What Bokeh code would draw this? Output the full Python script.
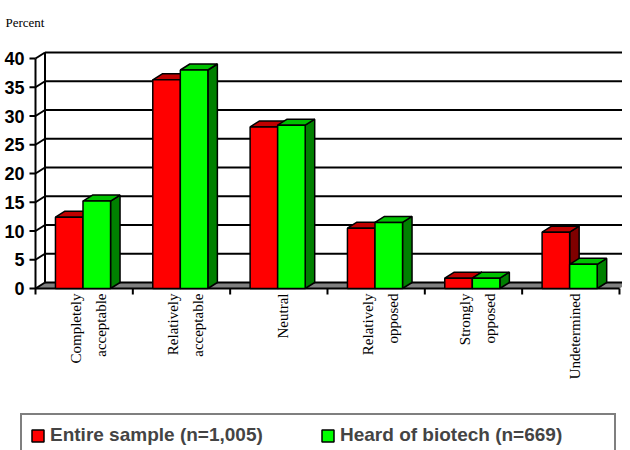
import math
from bokeh.plotting import figure
from bokeh.models import Range1d, Legend, LegendItem
from bokeh.core.properties import value
from bokeh.embed import file_html
from bokeh.resources import INLINE

# ---- data ----
categories = ["Completely acceptable", "Relatively acceptable", "Neutral",
              "Relatively opposed", "Strongly opposed", "Undetermined"]
label_lines = [["Completely", "acceptable"], ["Relatively", "acceptable"], ["Neutral"],
               ["Relatively", "opposed"], ["Strongly", "opposed"], ["Undetermined"]]
entire_sample = [12.4, 36.3, 28.1, 10.5, 1.8, 9.8]
heard_biotech = [15.2, 38.0, 28.4, 11.5, 1.8, 4.2]
y_ticks = [0, 5, 10, 15, 20, 25, 30, 35, 40]
y_tick_labels = [str(t) for t in y_ticks]
series_names = ["Entire sample (n=1,005)", "Heard of biotech (n=669)"]
y_title = "Percent"

# ---- layout constants ----
PX_X = 97.33          # px per category
PX_Y = 5.75           # px per percent
DX = 9.5 / PX_X       # 3-D depth in data x
DY = 6.0 / PX_Y       # 3-D depth in data y
BW = 0.283            # bar width
RED_OFF = 0.205       # left of first bar within a category
N = len(categories)
W, H = 622, 450
LEFT = 35             # px from figure left to the front y axis
ZERO = 288            # px from figure top to y = 0
TOP40 = 58            # px from figure top to y = 40

p = figure(width=W, height=H,
           x_range=Range1d(-LEFT / PX_X, (W - LEFT) / PX_X),
           y_range=Range1d(-(H - ZERO) / PX_Y, 40 + TOP40 / PX_Y),
           x_axis_type=None, y_axis_type=None,
           min_border_left=0, min_border_right=0, min_border_top=0, min_border_bottom=0,
           output_backend="svg", toolbar_location=None)
p.outline_line_color = None
p.background_fill_color = "white"
p.border_fill_color = "white"

tick_len_x = 6 / PX_X
tick_down = 6 / PX_Y
xmax = N

# floor
p.patch([0, DX, xmax + DX, xmax], [0, DY, DY, 0], fill_color="#808080", line_color=None)

# back wall gridlines
p.segment(x0=[DX] * len(y_ticks), y0=[t + DY for t in y_ticks],
          x1=[xmax + DX] * len(y_ticks), y1=[t + DY for t in y_ticks],
          line_color="black", line_width=2)
# left wall: diagonals and back vertical
p.segment(x0=[0] * len(y_ticks), y0=y_ticks, x1=[DX] * len(y_ticks),
          y1=[t + DY for t in y_ticks], line_color="black", line_width=2)
p.segment(x0=[DX], y0=[DY], x1=[DX], y1=[y_ticks[-1] + DY], line_color="black", line_width=2)
# y axis line, ticks and labels
p.segment(x0=[0], y0=[-tick_down], x1=[0], y1=[y_ticks[-1]], line_color="black", line_width=2)
p.segment(x0=[-tick_len_x] * len(y_ticks), y0=y_ticks, x1=[0] * len(y_ticks), y1=y_ticks,
          line_color="black", line_width=2)
p.text(x=[-11 / PX_X] * len(y_ticks), y=y_ticks, text=y_tick_labels,
       text_align="right", text_baseline="middle",
       text_font=value("Liberation Sans"), text_font_style="bold",
       text_font_size="18px", text_color="black")
# base line and category ticks
p.segment(x0=[0], y0=[0], x1=[xmax], y1=[0], line_color="black", line_width=2)
p.segment(x0=list(range(1, N + 1)), y0=[0] * N, x1=list(range(1, N + 1)),
          y1=[-tick_down] * N, line_color="black", line_width=2)


def bars3d(vals, off, front, top, side):
    lefts = [i + off for i in range(N)]
    rights = [l + BW for l in lefts]
    tops_x, tops_y, side_x, side_y = [], [], [], []
    for l, r, v in zip(lefts, rights, vals):
        tops_x.append([l, l + DX, r + DX, r])
        tops_y.append([v, v + DY, v + DY, v])
        side_x.append([r, r + DX, r + DX, r])
        side_y.append([0, DY, v + DY, v])
    p.patches(side_x, side_y, fill_color=side, line_color="black", line_width=1.5)
    p.patches(tops_x, tops_y, fill_color=top, line_color="black", line_width=1.5)
    rr = p.quad(left=lefts, right=rights, bottom=[0] * N, top=vals,
                fill_color=front, line_color="black", line_width=1.5)
    return rr


r_red = bars3d(entire_sample, RED_OFF, "#FF0000", "#C00000", "#800000")
r_green = bars3d(heard_biotech, RED_OFF + BW, "#00FF00", "#00C000", "#008000")

# category labels (rotated)
lx, ly, lt = [], [], []
for i, lines in enumerate(label_lines):
    offs = [-8, 17] if len(lines) == 2 else [4]
    for o, t in zip(offs, lines):
        lx.append(i + 0.5 + o / PX_X)
        ly.append(-5 / PX_Y)
        lt.append(t)
p.text(x=lx, y=ly, text=lt, angle=math.pi / 2, text_align="right", text_baseline="middle",
       text_font=value("Liberation Serif"), text_font_size="15px", text_color="black")

# "Percent" title
p.text(x=[-30 / PX_X], y=[(ZERO - 22) / PX_Y], text=[y_title],
       text_align="left", text_baseline="alphabetic",
       text_font=value("Liberation Serif"), text_font_size="13px", text_color="black")

legend = Legend(items=[LegendItem(label=series_names[0], renderers=[r_red]),
                       LegendItem(label=series_names[1], renderers=[r_green])],
                location=(20, -7), orientation="horizontal",
                border_line_color="black", border_line_width=2,
                label_text_font="Liberation Sans", label_text_font_style="bold",
                label_text_font_size="19px", glyph_width=15, glyph_height=15,
                label_standoff=5, spacing=4, padding=8, label_width=266, label_height=24,
                background_fill_color="white", background_fill_alpha=1.0)
p.add_layout(legend)

open("out.html", "w").write(file_html(p, INLINE))
